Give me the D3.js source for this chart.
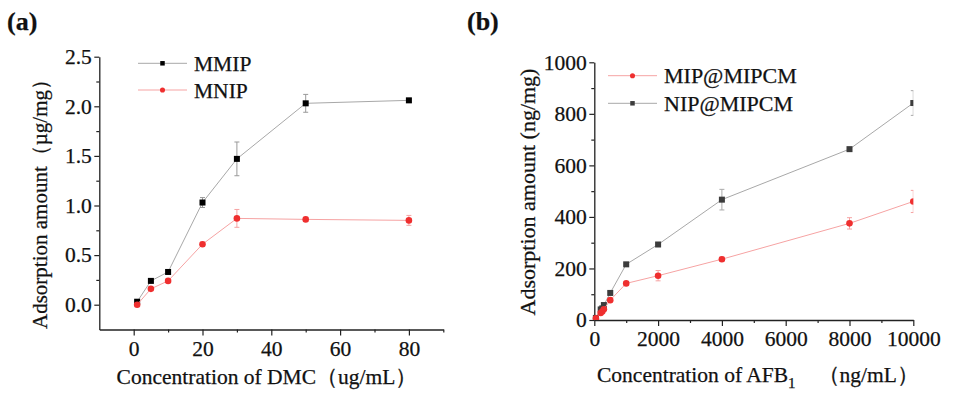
<!DOCTYPE html>
<html>
<head>
<meta charset="utf-8">
<script src="https://cdn.jsdelivr.net/npm/d3@7"></script>
<style>
  body { margin: 0; background: #fff; }
  svg { display: block; }
  text { font-family: "Liberation Serif", "Times New Roman", serif; fill: #111; stroke: #111; stroke-width: 0.25px; }
</style>
</head>
<body>
<svg id="chart" width="955" height="395"></svg>
<script>
// panel (a): DMC adsorption
const concA = [1, 5, 10, 20, 30, 50, 80]
const mmip = [0.03, 0.24, 0.33, 1.03, 1.47, 2.03, 2.06]
const mmipErr = [0.01, 0.01, 0.01, 0.05, 0.17, 0.09, 0.02]
const mnip = [0.0, 0.16, 0.24, 0.61, 0.87, 0.86, 0.85]
const mnipErr = [0.01, 0.01, 0.01, 0.02, 0.09, 0.02, 0.05]
const ticksAx = [0, 20, 40, 60, 80]
const ticksAy = [0, 0.5, 1.0, 1.5, 2.0, 2.5]

// panel (b): AFB1 adsorption
const concB = [50, 200, 250, 300, 500, 1000, 2000, 4000, 8000, 10000]
const mipB = [7, 27, 33, 42, 77, 142, 172, 236, 375, 460]
const mipBErr = [2, 3, 3, 4, 5, 6, 20, 8, 22, 43]
const nipB = [8, 41, 45, 58, 105, 216, 293, 467, 663, 842]
const nipBErr = [2, 3, 3, 4, 6, 5, 6, 40, 6, 48]
const ticksBx = [0, 2000, 4000, 6000, 8000, 10000]
const ticksBy = [0, 200, 400, 600, 800, 1000]

const svg = d3.select("#chart")

const RED = "#ef2f2f", PINK = "#f6a3a3", GRAY = "#a8a8a8"

function drawPanel(cfg) {
  const {x, y, series, xTicks, xMinor, yTicks, yMinor, xFmt, yFmt, clipId} = cfg
  const g = svg.append("g")

  //minor ticks first so major axes sit on top
  const [x0, x1] = x.range(), [yb, yt] = y.range()
  g.append("g").attr("transform", `translate(0,${yb})`)
    .call(d3.axisBottom(x).tickValues(xMinor).tickSize(3).tickFormat(""))
    .call(a => a.select(".domain").remove())
  g.append("g").attr("transform", `translate(${x0},0)`)
    .call(d3.axisLeft(y).tickValues(yMinor).tickSize(3).tickFormat(""))
    .call(a => a.select(".domain").remove())

  const ax = g.append("g").attr("transform", `translate(0,${yb})`)
    .call(d3.axisBottom(x).tickValues(xTicks).tickSize(6).tickPadding(5).tickSizeOuter(0).tickFormat(xFmt))
  const ay = g.append("g").attr("transform", `translate(${x0},0)`)
    .call(d3.axisLeft(y).tickValues(yTicks).tickSize(5).tickPadding(2.5).tickSizeOuter(0).tickFormat(yFmt))
  for (const a of [ax, ay]) {
    a.attr("font-family", null).attr("font-size", null)
    a.selectAll("text").attr("font-size", 21.5).style("fill", "#111")
    a.selectAll("path").attr("stroke", "#222").attr("stroke-width", 1.3)
  }
  g.selectAll(".tick line").attr("stroke", "#222").attr("stroke-width", 1.2)

  let plot = g.append("g")
  if (clipId) {
    svg.append("clipPath").attr("id", clipId).append("rect")
      .attr("x", x0 - 10).attr("y", yt - 10).attr("width", x1 - x0 + 10).attr("height", yb - yt + 10)
    plot.attr("clip-path", `url(#${clipId})`)
  }

  for (const s of series) {
    const pts = s.xs.map((v, i) => ({x: v, y: s.ys[i], e: s.err[i]}))
    plot.append("path").datum(pts)
      .attr("fill", "none").attr("stroke", s.line).attr("stroke-width", 1)
      .attr("d", d3.line().x(d => x(d.x)).y(d => y(d.y)))
    //error bars
    const eb = plot.append("g").attr("stroke", s.errColor).attr("stroke-width", 1)
    pts.forEach(d => {
      const cx = x(d.x), top = y(d.y + d.e), bot = y(d.y - d.e)
      eb.append("line").attr("x1", cx).attr("x2", cx).attr("y1", top).attr("y2", bot)
      eb.append("line").attr("x1", cx - 2.5).attr("x2", cx + 2.5).attr("y1", top).attr("y2", top)
      eb.append("line").attr("x1", cx - 2.5).attr("x2", cx + 2.5).attr("y1", bot).attr("y2", bot)
    })
    drawMarkers(plot, pts.map(d => [x(d.x), y(d.y)]), s.shape, s.fill, 6)
  }
}

function drawMarkers(g, xy, shape, fill, size) {
  if (shape === "square") {
    g.selectAll(null).data(xy).join("rect")
      .attr("x", d => d[0] - size / 2).attr("y", d => d[1] - size / 2)
      .attr("width", size).attr("height", size).attr("fill", fill)
  } else {
    g.selectAll(null).data(xy).join("circle")
      .attr("cx", d => d[0]).attr("cy", d => d[1]).attr("r", size / 2 + 0.3).attr("fill", fill)
  }
}

function legend(x, y, gap, fontSize, items) {
  items.forEach((it, i) => {
    const ly = y + i * gap
    svg.append("line").attr("x1", x).attr("x2", x + 49).attr("y1", ly).attr("y2", ly)
      .attr("stroke", it.line).attr("stroke-width", 1)
    drawMarkers(svg, [[x + 24.5, ly]], it.shape, it.fill, 4.5)
    svg.append("text").attr("x", x + 56).attr("y", ly + 7.5).attr("font-size", fontSize).text(it.label)
  })
}

// ---- panel (a)
const xA = d3.scaleLinear().domain([-10, 90]).range([99.3, 443.3])
const yA = d3.scaleLinear().domain([-0.25, 2.5]).range([329.5, 56.7])
drawPanel({
  x: xA, y: yA,
  xTicks: ticksAx, xMinor: [10, 30, 50, 70, 90], xFmt: d3.format("d"),
  yTicks: ticksAy, yMinor: [0.25, 0.75, 1.25, 1.75, 2.25], yFmt: d3.format(".1f"),
  series: [
    {xs: concA, ys: mmip, err: mmipErr, line: GRAY, errColor: "#999", shape: "square", fill: "#000"},
    {xs: concA, ys: mnip, err: mnipErr, line: PINK, errColor: PINK, shape: "circle", fill: RED}
  ]
})
legend(138, 63.3, 26.7, 21.5, [
  {label: "MMIP", line: GRAY, shape: "square", fill: "#000"},
  {label: "MNIP", line: PINK, shape: "circle", fill: RED}
])
svg.append("text").attr("x", 267).attr("y", 384).attr("text-anchor", "middle")
  .attr("font-size", 21.5).text("Concentration of DMC（ug/mL）")
svg.append("text").attr("transform", "translate(47,199) rotate(-90)").attr("text-anchor", "middle")
  .attr("font-size", 21).text("Adsorption amount（µg/mg）")
svg.append("text").attr("x", 7).attr("y", 30).attr("font-size", 26).attr("font-weight", "bold").text("(a)")

// ---- panel (b)
const xB = d3.scaleLinear().domain([0, 10000]).range([594.3, 913.3])
const yB = d3.scaleLinear().domain([0, 1000]).range([320, 62.3])
drawPanel({
  x: xB, y: yB, clipId: "clipB",
  xTicks: ticksBx, xMinor: [1000, 3000, 5000, 7000, 9000], xFmt: d3.format("d"),
  yTicks: ticksBy, yMinor: [100, 300, 500, 700, 900], yFmt: d3.format("d"),
  series: [
    {xs: concB, ys: nipB, err: nipBErr, line: GRAY, errColor: "#aaa", shape: "square", fill: "#3c3c3c"},
    {xs: concB, ys: mipB, err: mipBErr, line: PINK, errColor: PINK, shape: "circle", fill: RED}
  ]
})
legend(608, 75.7, 27.6, 22, [
  {label: "MIP@MIPCM", line: PINK, shape: "circle", fill: RED},
  {label: "NIP@MIPCM", line: GRAY, shape: "square", fill: "#3c3c3c"}
])
const tb = svg.append("text").attr("x", 597).attr("y", 382).attr("font-size", 21.5)
tb.append("tspan").text("Concentration of AFB")
tb.append("tspan").attr("font-size", 15).attr("dy", 6).text("1")
tb.append("tspan").attr("dy", -6).text("　（ng/mL）")
svg.append("text").attr("transform", "translate(535,192) rotate(-90)").attr("text-anchor", "middle")
  .attr("font-size", 22).text("Adsorption amount (ng/mg)")
svg.append("text").attr("x", 467).attr("y", 30).attr("font-size", 26).attr("font-weight", "bold").text("(b)")
</script>
</body>
</html>
